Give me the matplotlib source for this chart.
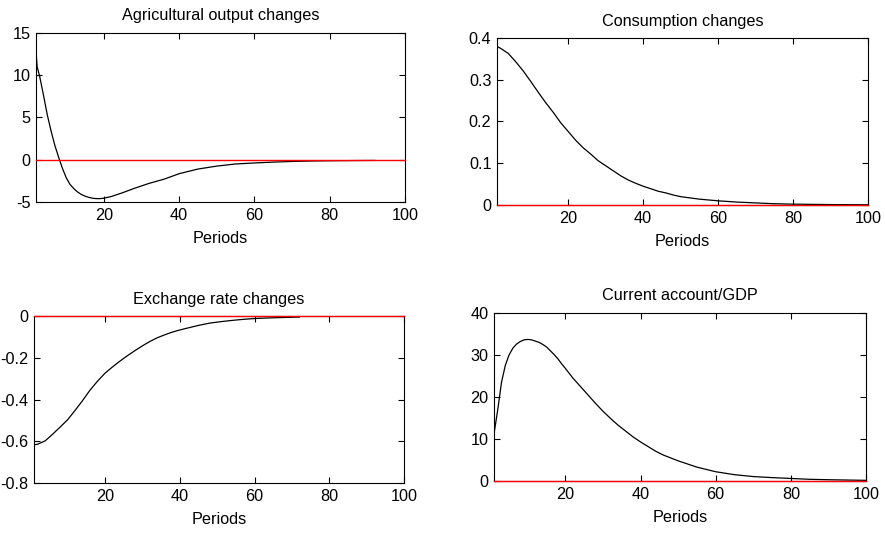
import matplotlib
matplotlib.use("Agg")
import matplotlib.pyplot as plt

plt.rcParams['font.family'] = ['Liberation Sans', 'DejaVu Sans']
plt.rcParams['axes.unicode_minus'] = False

# Agricultural output changes
agr_t = [2, 2.3, 3, 4, 5, 6, 7, 8, 9, 10, 11, 12, 13, 14, 15, 16, 17, 18, 19, 20,
         22, 25, 28, 32, 36, 40, 45, 50, 55, 60, 65, 70, 75, 80, 85, 92]
agr_y = [12.8, 11.0, 9.8, 7.6, 5.3, 3.4, 1.7, 0.3, -1.0, -2.1, -2.9, -3.4, -3.8, -4.1, -4.3,
         -4.45, -4.55, -4.6, -4.6, -4.55, -4.35, -3.9, -3.4, -2.8, -2.3, -1.65, -1.1,
         -0.75, -0.5, -0.38, -0.28, -0.2, -0.15, -0.12, -0.1, -0.08]

# Consumption changes
con_t = [1, 2, 4, 6, 8, 10, 12, 14, 16, 18, 20, 22, 24, 26, 28, 30, 32, 34, 36, 38,
         40, 42, 44, 46, 48, 50, 55, 60, 65, 70, 75, 80, 90, 100]
con_y = [0.38, 0.375, 0.363, 0.343, 0.321, 0.296, 0.27, 0.245, 0.222, 0.197, 0.176,
         0.155, 0.137, 0.122, 0.106, 0.094, 0.082, 0.07, 0.06, 0.052, 0.045, 0.039,
         0.033, 0.029, 0.024, 0.02, 0.014, 0.01, 0.007, 0.005, 0.003, 0.002, 0.001, 0.0005]

# Exchange rate changes
exr_t = [1, 2, 4, 6, 8, 10, 12, 14, 16, 18, 20, 22, 24, 26, 28, 30, 32, 34, 36, 38,
         40, 42, 45, 48, 51, 54, 57, 60, 64, 68, 72]
exr_y = [-0.617, -0.614, -0.598, -0.566, -0.532, -0.497, -0.452, -0.405, -0.355, -0.312,
         -0.274, -0.244, -0.216, -0.19, -0.166, -0.143, -0.122, -0.104, -0.09, -0.077,
         -0.067, -0.058, -0.045, -0.034, -0.027, -0.021, -0.016, -0.012, -0.009,
         -0.007, -0.005]

# Current account/GDP
cag_t = [1, 1.05, 2, 3, 4, 5, 6, 7, 8, 9, 10, 11, 12, 13, 14, 15, 16, 17, 18, 19, 20,
         22, 24, 26, 28, 30, 32, 34, 36, 38, 40, 42, 44, 46, 48, 50, 55, 60, 65, 70,
         75, 80, 85, 90, 100]
cag_y = [9.5, 11.5, 17.0, 23.5, 27.5, 30.0, 31.6, 32.6, 33.2, 33.6, 33.7, 33.6, 33.3,
         33.0, 32.5, 31.9, 31.0, 30.1, 29.1, 27.9, 26.8, 24.5, 22.5, 20.5, 18.5, 16.6,
         14.9, 13.3, 11.9, 10.5, 9.3, 8.2, 7.1, 6.2, 5.5, 4.8, 3.3, 2.2, 1.5, 1.05,
         0.8, 0.6, 0.4, 0.3, 0.15]

panels = [
    ("Agricultural output changes", agr_t, agr_y, (2, 100), (-5, 15), [-5, 0, 5, 10, 15],
     [0.0407, 0.6210, 0.4169, 0.3171]),
    ("Consumption changes", con_t, con_y, (1, 100), (0, 0.4), [0, 0.1, 0.2, 0.3, 0.4],
     [0.5616, 0.6154, 0.4192, 0.3133]),
    ("Exchange rate changes", exr_t, exr_y, (1, 100), (-0.8, 0), [-0.8, -0.6, -0.4, -0.2, 0],
     [0.0384, 0.0938, 0.4181, 0.3133]),
    ("Current account/GDP", cag_t, cag_y, (1, 100), (0, 40), [0, 10, 20, 30, 40],
     [0.5582, 0.0976, 0.4203, 0.3152]),
]

fs = 11.7
fig = plt.figure(figsize=(8.85, 5.33), dpi=100)

for title, t, y, xl, yl, yt, pos in panels:
    ax = fig.add_axes(pos)
    ax.plot(t, y, color='black', lw=0.9)
    # zero reference line, drawn above the frame
    ax.plot(xl, [0, 0], color='red', lw=1.0, zorder=3, clip_on=False)
    ax.set_xlim(xl)
    ax.set_ylim(yl)
    ax.set_xticks([20, 40, 60, 80, 100])
    ax.set_yticks(yt)
    ax.set_yticklabels(["{:g}".format(v) for v in yt])
    ax.tick_params(direction='in', top=True, right=True, length=4, width=0.8,
                   labelsize=fs, pad=4)
    for s in ax.spines.values():
        s.set_linewidth(0.8)
    ax.set_title(title, fontsize=fs, pad=9)
    ax.set_xlabel("Periods", fontsize=fs, labelpad=6)

fig.savefig("out.png", dpi=100)
